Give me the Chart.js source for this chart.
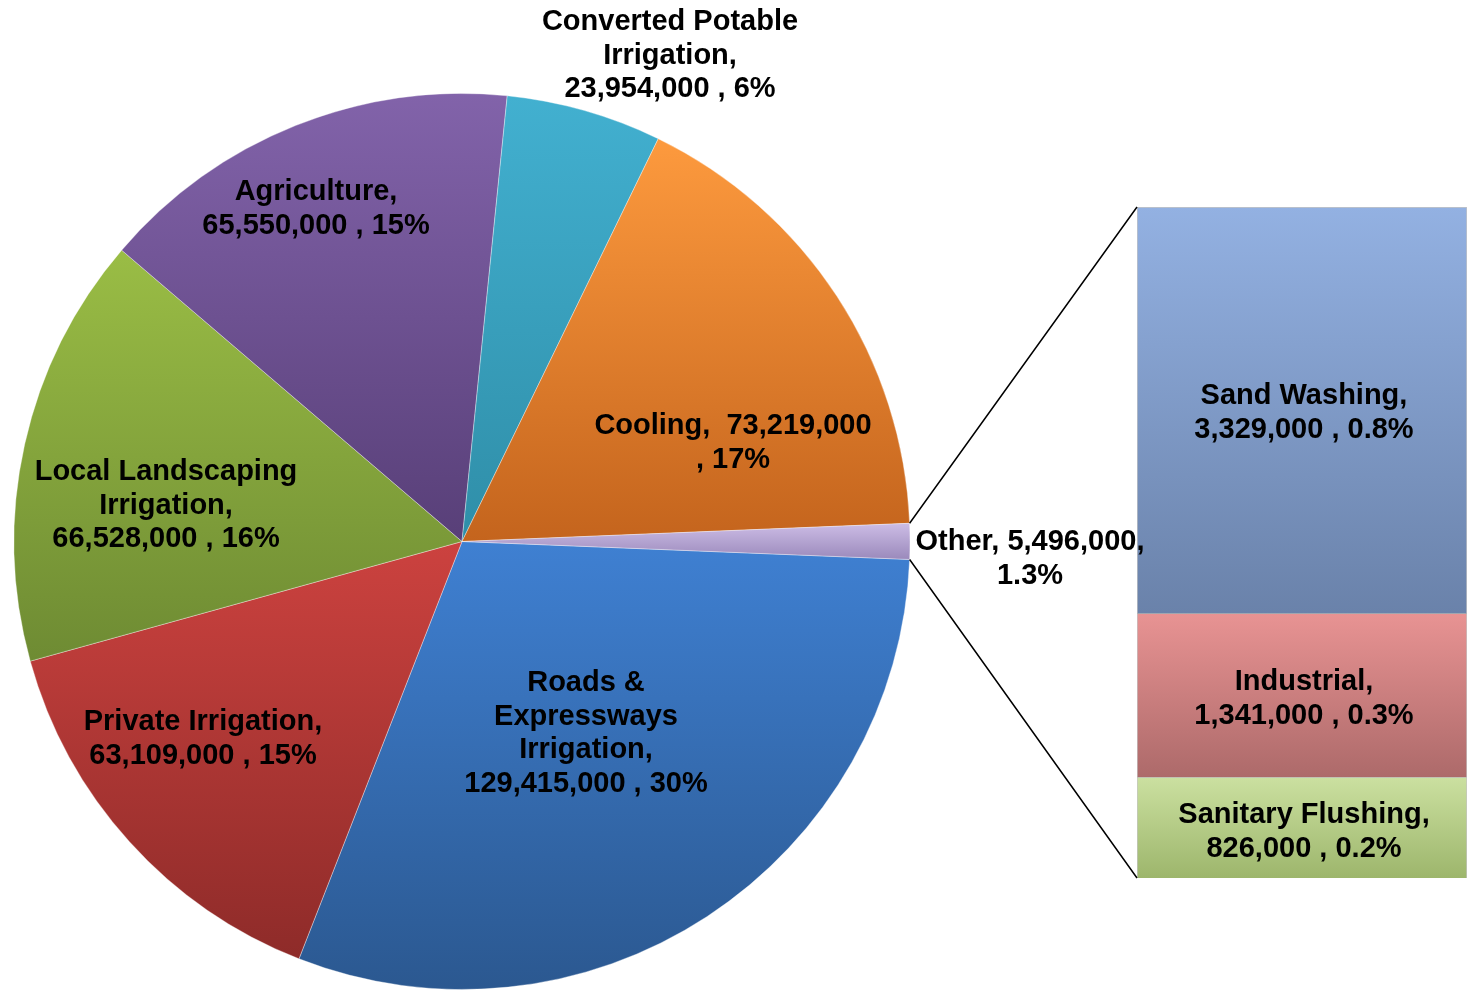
<!DOCTYPE html>
<html>
<head>
<meta charset="utf-8">
<script src="https://cdn.jsdelivr.net/npm/chart.js@4.4.1/dist/chart.umd.min.js"></script>
<style>
  html, body { margin: 0; padding: 0; background: #fff; }
  #wrap { position: relative; width: 1468px; height: 990px; overflow: hidden; }
  #wrap canvas { position: absolute; left: 0; top: 0; }
</style>
</head>
<body>
<div id="wrap">
  <canvas id="pie" width="1468" height="990"></canvas>
  <canvas id="bar" width="1468" height="990"></canvas>
</div>
<script>
// pie slices, clockwise from 3 o'clock
const pieNames = ["Roads & Expressways Irrigation", "Private Irrigation", "Local Landscaping Irrigation",
  "Agriculture", "Converted Potable Irrigation", "Cooling", "Other"];
const pieValues = [129415000, 63109000, 66528000, 65550000, 23954000, 73219000, 5496000];
const pieDecimals = [0, 0, 0, 0, 0, 0, 1];

// breakdown of "Other", bottom to top
const barNames = ["Sanitary Flushing", "Industrial", "Sand Washing"];
const barValues = [826000, 1341000, 3329000];
const barDecimals = [1, 1, 1];

const total = pieValues.reduce((a, b) => a + b, 0);
const otherTotal = barValues.reduce((a, b) => a + b, 0);

const pieColors = [
  ["#3f80d2", "#2b5890"],
  ["#cc423f", "#8e2b29"],
  ["#9abd45", "#6e8b33"],
  ["#8263aa", "#583f78"],
  ["#42b0d0", "#2f8ea8"],
  ["#fd9a3e", "#c4641d"],
  ["#cdbde6", "#9a89bb"]
];
const barColors = [
  ["#cbe0a0", "#9db66c"],
  ["#e89393", "#ad6a6a"],
  ["#93b1e2", "#6a82aa"]
];

// text templates, "|" = line break
const pieLabelText = [
  "Roads &|Expressways|Irrigation,|{v} , {p}",
  "Private Irrigation,|{v} , {p}",
  "Local Landscaping|Irrigation,|{v} , {p}",
  "Agriculture,|{v} , {p}",
  "Converted Potable|Irrigation,|{v} , {p}",
  "Cooling,  {v}|, {p}",
  "Other, {v},|{p}"
];
const barLabelText = [
  "Sanitary Flushing,|{v} , {p}",
  "Industrial,|{v} , {p}",
  "Sand Washing,|{v} , {p}"
];
const pieLabelPos = [[586, 683], [203, 722], [166, 472], [316, 192], [670, 22], [733, 426], [1030, 542]];
const barLabelPos = [[1304, 815], [1304, 682], [1304, 396]];

const FONT = "bold 29px 'Liberation Sans', Arial, sans-serif";
const LINE_H = 33.7;

function fmtLines(tpl, v, dec) {
  const p = (v / total * 100).toFixed(dec) + "%";
  return tpl.replace("{v}", v.toLocaleString("en-US")).replace("{p}", p).split("|");
}

function drawLines(ctx, lines, x, y) {
  ctx.save();
  ctx.font = FONT;
  ctx.fillStyle = "#000";
  ctx.textAlign = "center";
  ctx.textBaseline = "middle";
  lines.forEach((t, i) => ctx.fillText(t, x, y + i * LINE_H));
  ctx.restore();
}

const ROTATION = 92.3;

function sliceGradient(context) {
  const chart = context.chart;
  const area = chart.chartArea;
  const i = context.dataIndex;
  if (!area || i === undefined) return pieColors[i || 0][0];
  const cy = (area.top + area.bottom) / 2;
  const r = Math.min(area.right - area.left, area.bottom - area.top) / 2;
  let a0 = (-90 + ROTATION) * Math.PI / 180;
  for (let k = 0; k < i; k++) a0 += pieValues[k] / total * Math.PI * 2;
  const a1 = a0 + pieValues[i] / total * Math.PI * 2;
  let ys = [cy, cy + r * Math.sin(a0), cy + r * Math.sin(a1)];
  for (let k = -4; k <= 4; k++) {
    const a = Math.PI / 2 + k * Math.PI;
    if (a > a0 && a < a1) ys.push(cy + r * Math.sin(a));
  }
  const g = chart.ctx.createLinearGradient(0, Math.min(...ys), 0, Math.max(...ys));
  g.addColorStop(0, pieColors[i][0]);
  g.addColorStop(1, pieColors[i][1]);
  return g;
}

const pieChart = new Chart(document.getElementById("pie"), {
  type: "pie",
  data: {
    labels: pieNames,
    datasets: [{
      data: pieValues,
      backgroundColor: sliceGradient,
      borderColor: "rgba(255,255,255,0.35)",
      borderWidth: 1
    }]
  },
  options: {
    responsive: false,
    animation: false,
    rotation: ROTATION,
    layout: { padding: { left: 13, top: 93, right: 557, bottom: 0 } },
    plugins: { legend: { display: false }, tooltip: { enabled: false } }
  }
});

function barGradient(i) {
  return (context) => {
    const chart = context.chart;
    if (!chart.chartArea || !chart.scales.y) return barColors[i][0];
    const y = chart.scales.y;
    let lo = 0;
    for (let k = 0; k < i; k++) lo += barValues[k];
    const g = chart.ctx.createLinearGradient(0, y.getPixelForValue(lo + barValues[i]), 0, y.getPixelForValue(lo));
    g.addColorStop(0, barColors[i][0]);
    g.addColorStop(1, barColors[i][1]);
    return g;
  };
}

// connector lines + all text, drawn on the top canvas
const connectors = {
  id: "connectors",
  afterDraw(chart) {
    const ctx = chart.ctx;
    const arc = pieChart.getDatasetMeta(0).data[pieValues.length - 1];
    const topBar = chart.getDatasetMeta(barValues.length - 1).data[0];
    const botBar = chart.getDatasetMeta(0).data[0];
    const left = topBar.x - topBar.width / 2;
    const r = arc.outerRadius;
    ctx.save();
    ctx.strokeStyle = "#000";
    ctx.lineWidth = 1.5;
    ctx.beginPath();
    ctx.moveTo(arc.x + r * Math.cos(arc.startAngle), arc.y + r * Math.sin(arc.startAngle));
    ctx.lineTo(left, topBar.y);
    ctx.moveTo(arc.x + r * Math.cos(arc.endAngle), arc.y + r * Math.sin(arc.endAngle));
    ctx.lineTo(left, botBar.base);
    ctx.stroke();
    ctx.restore();
    pieValues.forEach((v, i) => {
      drawLines(ctx, fmtLines(pieLabelText[i], v, pieDecimals[i]), pieLabelPos[i][0], pieLabelPos[i][1]);
    });
    barValues.forEach((v, i) => {
      drawLines(ctx, fmtLines(barLabelText[i], v, barDecimals[i]), barLabelPos[i][0], barLabelPos[i][1]);
    });
  }
};

new Chart(document.getElementById("bar"), {
  type: "bar",
  data: {
    labels: ["Other"],
    datasets: barValues.map((v, i) => ({
      label: barNames[i],
      data: [v],
      backgroundColor: barGradient(i),
      borderColor: "rgba(90,90,90,0.35)",
      borderWidth: 1,
      categoryPercentage: 1,
      barPercentage: 1
    }))
  },
  options: {
    responsive: false,
    animation: false,
    layout: { padding: { left: 1137, top: 207, right: 1, bottom: 112 } },
    scales: {
      x: { stacked: true, display: false },
      y: { stacked: true, display: false, min: 0, max: otherTotal }
    },
    plugins: { legend: { display: false }, tooltip: { enabled: false } }
  },
  plugins: [connectors]
});
</script>
</body>
</html>
